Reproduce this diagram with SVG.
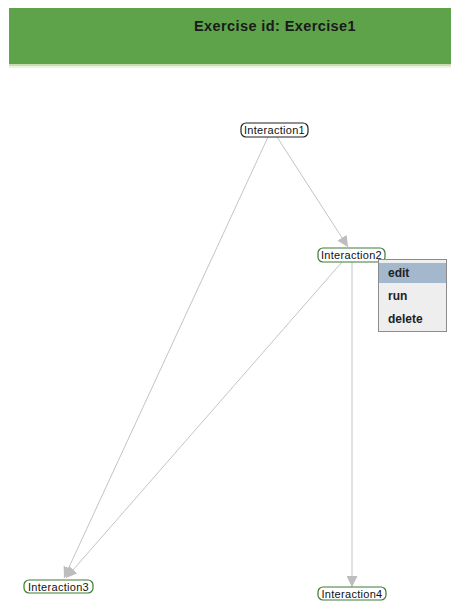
<svg xmlns="http://www.w3.org/2000/svg" width="451" height="603" viewBox="0 0 451 603">
<defs>
<style>
.node rect{fill:#fff;stroke-width:1.2;}
.node text{font-family:"Liberation Sans",Arial,sans-serif;font-size:11px;letter-spacing:0.3px;fill:#111;text-anchor:middle;}
.edge{stroke:#c4c4c4;stroke-width:1;fill:none;marker-end:url(#arr);}
.menu text{font-family:"Liberation Sans",Arial,sans-serif;font-size:12px;font-weight:bold;fill:#222;}
</style>
<marker id="arr" viewBox="0 0 10 10" refX="10" refY="5" markerWidth="11" markerHeight="11" markerUnits="userSpaceOnUse" orient="auto">
<path d="M0,0 L10,5 L0,10 z" fill="#bdbdbd"/>
</marker>
</defs>
<rect width="451" height="603" fill="#fff"/>
<g id="header">
<rect x="9" y="8" width="442" height="56" fill="#5ea34a"/>
<rect x="9" y="64" width="442" height="2" fill="#c9ddb3"/>
<rect x="9" y="66" width="442" height="2" fill="#eef3e2"/>
<text x="275" y="31" font-family="'Liberation Sans',Arial,sans-serif" font-size="14.5px" font-weight="bold" fill="#1a1a1a" text-anchor="middle" letter-spacing="0.4">Exercise id: Exercise1</text>
</g>
<g id="connectors">
<line class="edge" x1="268" y1="137" x2="64" y2="578"/>
<line class="edge" x1="277" y1="137" x2="348" y2="247"/>
<line class="edge" x1="342" y1="262" x2="66" y2="578"/>
<line class="edge" x1="352" y1="262" x2="352" y2="587"/>
</g>
<g id="Interaction1" class="node">
<rect x="241" y="123" width="67" height="14" rx="5" stroke="#222"/>
<text x="274.5" y="134">Interaction1</text>
</g>
<g id="Interaction2" class="node">
<rect x="318" y="248" width="67" height="14" rx="5" stroke="#3c7a32"/>
<text x="351.5" y="259">Interaction2</text>
</g>
<g id="Interaction3" class="node">
<rect x="24" y="580" width="69" height="13" rx="5" stroke="#3c7a32"/>
<text x="58.5" y="590.5">Interaction3</text>
</g>
<g id="Interaction4" class="node">
<rect x="318" y="587" width="68" height="13" rx="5" stroke="#3c7a32"/>
<text x="352" y="597.5">Interaction4</text>
</g>
<g id="menu" class="menu">
<rect x="378.5" y="259.5" width="68" height="72" fill="#eeeeee" stroke="#8c8c8c"/>
<rect x="379" y="263" width="67" height="20" fill="#a3b8cc"/>
<text x="388" y="277">edit</text>
<text x="388" y="300">run</text>
<text x="388" y="323">delete</text>
</g>
</svg>
